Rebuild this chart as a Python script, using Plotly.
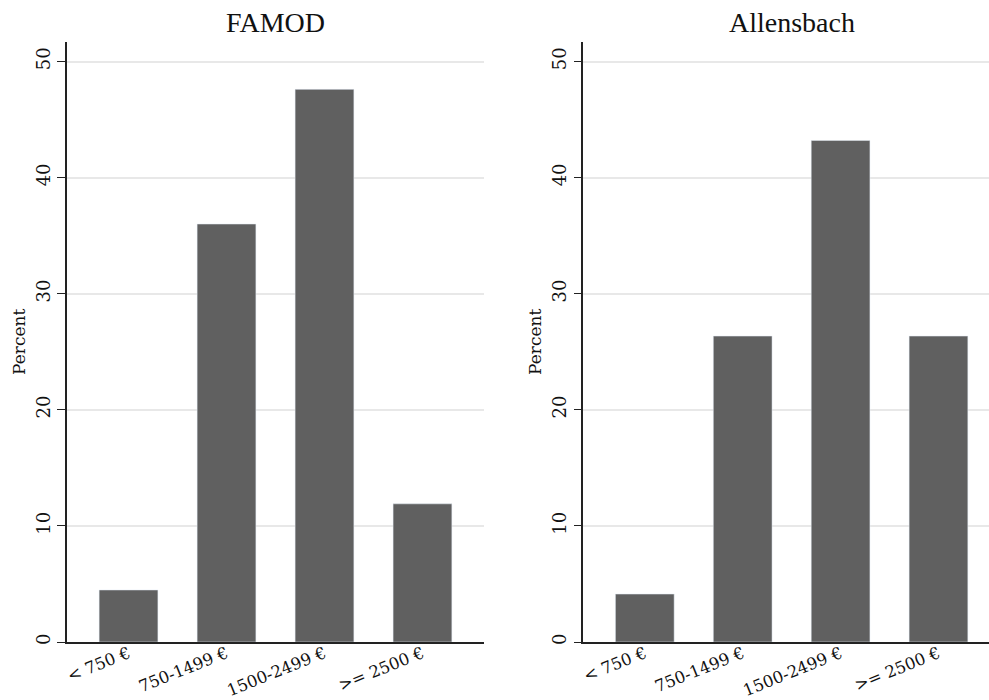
import plotly.graph_objects as go

categories = ["< 750 €", "750-1499 €", "1500-2499 €", ">= 2500 €"]
famod_values = [4.48, 36.0, 47.6, 11.9]
allensbach_values = [4.13, 26.35, 43.2, 26.35]
panel_titles = ["FAMOD", "Allensbach"]
y_ticks = [0, 10, 20, 30, 40, 50]

W, H = 989, 700
BAR = "#606060"
YTICKFONT = dict(family="DejaVu Serif", size=18, color="#111111")
XTICKFONT = dict(family="DejaVu Serif", size=16.5, color="#111111")

fig = go.Figure()
fig.add_trace(go.Bar(x=[0, 1, 2, 3], y=famod_values, marker_color=BAR, width=0.6,
                     xaxis="x", yaxis="y", showlegend=False))
fig.add_trace(go.Bar(x=[0, 1, 2, 3], y=allensbach_values, marker_color=BAR, width=0.6,
                     xaxis="x2", yaxis="y2", showlegend=False))

ydom = [1 - 642 / H, 1 - 41.7 / H]
yrange = [0, (642 - 41.7) / 11.61]

def xaxis(domain, rng):
    return dict(domain=domain, range=rng, tickvals=[0, 1, 2, 3], ticktext=categories,
                tickangle=-22, showline=True, linecolor="#222222", linewidth=1.5,
                ticks="", showgrid=False, zeroline=False, tickfont=XTICKFONT,
                ticklabelstandoff=-6, fixedrange=True, automargin=False)

def yaxis(anchor):
    return dict(domain=ydom, range=yrange, anchor=anchor, tickvals=y_ticks, tickangle=-90,
                showline=True, linecolor="#222222", linewidth=1.5, ticks="outside",
                ticklen=8, tickcolor="#222222", tickwidth=1.2, showgrid=True,
                gridcolor="#e8e8e8", gridwidth=1.5, zeroline=False, tickfont=YTICKFONT,
                automargin=False, fixedrange=True,
                title=dict(text="Percent", font=dict(family="DejaVu Serif", size=17, color="#111111"),
                           standoff=3))

fig.update_layout(
    width=W, height=H,
    margin=dict(l=0, r=0, t=0, b=0, autoexpand=False),
    paper_bgcolor="white", plot_bgcolor="white",
    bargap=0.4,
    xaxis=xaxis([67 / W, 484 / W], [-0.628, 3.628]),
    yaxis=yaxis("x"),
    xaxis2=xaxis([583.3 / W, 1.0], [-0.628, 3.516]),
    yaxis2=yaxis("x2"),
    annotations=[
        dict(text=panel_titles[0], x=275.5 / W, y=1 - 22 / H, xref="paper", yref="paper",
             xanchor="center", yanchor="middle", showarrow=False,
             font=dict(family="Liberation Serif", size=28, color="#111111")),
        dict(text=panel_titles[1], x=791.6 / W, y=1 - 22 / H, xref="paper", yref="paper",
             xanchor="center", yanchor="middle", showarrow=False,
             font=dict(family="Liberation Serif", size=28, color="#111111")),
    ],
)

fig.write_html("out.html", config={"displayModeBar": False},
               post_script="document.body.style.margin='0';document.body.style.overflow='hidden';")
